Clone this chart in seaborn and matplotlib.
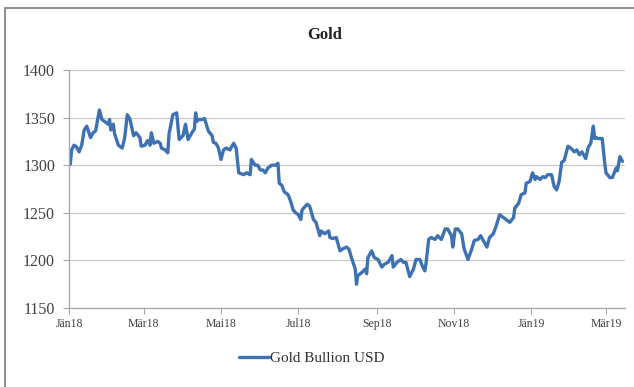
import pandas as pd
import matplotlib
matplotlib.use("Agg")
import matplotlib.pyplot as plt
import seaborn as sns
from matplotlib.patches import Rectangle

# ---------------------------------------
# DATA
# ---------------------------------------

# days since 2018-01-01
day_offsets = [1, 2, 4, 6, 8, 10, 12, 14, 17, 19, 21, 24, 26, 28, 31, 32, 33, 35, 36, 39,
               42, 44, 46, 48, 51, 53, 56, 57, 60, 62, 64, 65, 67, 70, 72, 73, 76, 78, 79, 82,
               85, 87, 90, 92, 94, 97, 99, 100, 101, 102, 105, 107, 110, 113, 114, 116, 118, 120, 122, 124,
               127, 130, 132, 134, 138, 140, 143, 144, 147, 149, 151, 153, 155, 157, 160, 163, 165, 166, 168, 170,
               173, 175, 177, 179, 181, 183, 184, 188, 190, 193, 195, 198, 199, 202, 205, 206, 208, 211, 214, 216,
               219, 221, 223, 226, 227, 228, 231, 234, 235, 236, 239, 241, 244, 247, 249, 252, 255, 256, 259, 262,
               264, 266, 269, 272, 274, 277, 279, 281, 282, 284, 286, 289, 291, 294, 297, 299, 302, 303, 305, 307,
               310, 312, 315, 318, 320, 323, 325, 327, 330, 332, 335, 337, 340, 343, 345, 348, 351, 352, 355, 357,
               360, 361, 364, 366, 368, 369, 372, 374, 376, 378, 381, 383, 385, 387, 389, 391, 394, 397, 399, 401,
               403, 405, 408, 410, 412, 414, 415, 416, 418, 421, 423, 424, 427, 429, 432, 433, 435, 437]

gold_usd = [1301, 1316, 1321, 1319, 1314, 1321, 1337, 1341, 1329, 1334, 1336, 1358, 1348, 1346, 1343, 1348, 1337, 1343, 1333, 1321,
            1318, 1329, 1353, 1349, 1331, 1334, 1329, 1320, 1321, 1326, 1321, 1334, 1323, 1325, 1323, 1318, 1316, 1313, 1333, 1353,
            1355, 1327, 1331, 1343, 1327, 1334, 1338, 1355, 1346, 1348, 1348, 1349, 1336, 1331, 1324, 1323, 1318, 1306, 1316, 1318,
            1316, 1323, 1318, 1292, 1290, 1292, 1290, 1306, 1300, 1300, 1295, 1295, 1292, 1297, 1300, 1300, 1302, 1281, 1279, 1272,
            1269, 1262, 1253, 1250, 1248, 1243, 1253, 1259, 1257, 1243, 1240, 1226, 1231, 1228, 1231, 1224, 1223, 1224, 1210, 1212,
            1214, 1212, 1203, 1191, 1175, 1184, 1187, 1191, 1186, 1203, 1210, 1203, 1201, 1193, 1196, 1198, 1205, 1193, 1198, 1201,
            1198, 1198, 1183, 1191, 1201, 1201, 1194, 1189, 1198, 1222, 1224, 1222, 1226, 1222, 1233, 1233, 1226, 1214, 1233, 1233,
            1228, 1212, 1201, 1212, 1221, 1222, 1226, 1221, 1214, 1224, 1228, 1235, 1248, 1245, 1243, 1240, 1245, 1255, 1260, 1269,
            1271, 1281, 1283, 1292, 1285, 1288, 1285, 1288, 1287, 1290, 1290, 1278, 1274, 1283, 1303, 1305, 1320, 1317, 1314, 1316,
            1311, 1314, 1307, 1319, 1323, 1341, 1328, 1329, 1328, 1328, 1302, 1292, 1287, 1287, 1297, 1294, 1309, 1304]

tick_dates = ["2018-01-01", "2018-03-01", "2018-05-01", "2018-07-01",
              "2018-09-01", "2018-11-01", "2019-01-01", "2019-03-01"]
tick_labels = ["Jän18", "Mär18", "Mai18", "Jul18", "Sep18", "Nov18", "Jän19", "Mär19"]
y_ticks = [1150, 1200, 1250, 1300, 1350, 1400]

df = pd.DataFrame({
    "date": pd.Timestamp("2018-01-01") + pd.to_timedelta(day_offsets, unit="D"),
    "price": gold_usd,
})

# ---------------------------------------
# STYLE
# ---------------------------------------

sns.set_theme(style="white")
plt.rcParams["font.family"] = ["Liberation Serif", "DejaVu Serif"]

fig = plt.figure(figsize=(6.34, 3.87), dpi=100)
ax = fig.add_axes([69/634, 1 - 308/387, (625 - 69)/634, (308 - 70)/387])

sns.lineplot(data=df, x="date", y="price", ax=ax, color="#3E71B4",
             linewidth=2.4, label="Gold Bullion USD", legend=False)

ax.set_xlim(pd.Timestamp("2018-01-01"), pd.Timestamp("2019-03-16"))
ax.set_ylim(1150, 1400)
ax.set_yticks(y_ticks)
ax.set_yticklabels([str(v) for v in y_ticks], fontsize=11.5, color="#404040")
ax.set_xticks(pd.to_datetime(tick_dates))
ax.set_xticklabels(tick_labels, fontsize=8.5, color="#404040")
ax.set_xlabel("")
ax.set_ylabel("")

ax.grid(axis="y", color="#C8C8C8", linewidth=0.9)
ax.set_axisbelow(True)
for s in ["top", "right"]:
    ax.spines[s].set_visible(False)
for s in ["left", "bottom"]:
    ax.spines[s].set_color("#A6A6A6")
    ax.spines[s].set_linewidth(0.9)
ax.tick_params(axis="both", which="both", direction="out", length=4,
               width=0.8, color="#A6A6A6", left=True, bottom=True)
ax.tick_params(axis="y", pad=6)
ax.tick_params(axis="x", pad=3)

fig.text(325/634, 1 - 35/387, "Gold", ha="center", va="center",
         fontsize=12, fontweight="bold", color="#202020")

handles, labels = ax.get_legend_handles_labels()
fig.legend(handles, labels, loc="center", bbox_to_anchor=(312/634, 1 - 358/387),
           frameon=False, fontsize=11, handlelength=1.9, handletextpad=0.1,
           labelcolor="#303030")

# outer chart frame (partly cropped in the original)
fig.patches.append(Rectangle((5/634, -0.1), 1.2, 1 - 8/387 + 0.1,
                             transform=fig.transFigure, fill=False,
                             edgecolor="#8C8C8C", linewidth=1.4))

fig.savefig("out.png", dpi=100)
